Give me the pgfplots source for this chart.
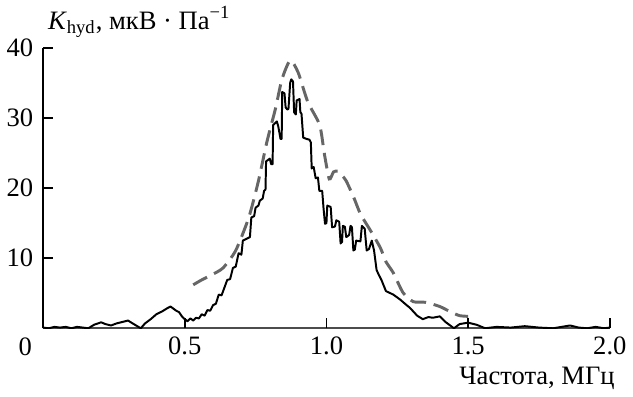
\documentclass[border=0pt]{standalone}
\usepackage{fontspec}
\setmainfont{Liberation Serif}
\usepackage{pgfplots}
\pgfplotsset{compat=1.18}
\begin{document}
\begin{tikzpicture}[font=\fontsize{13.5}{16}\selectfont]
\begin{axis}[
  scale only axis, width=288pt, height=142.5pt,
  xmin=0, xmax=2, ymin=0, ymax=40,
  axis x line*=bottom, axis y line*=left,
  axis line style={line width=0.8pt},
  xtick={0.5,1,1.5,2}, ytick={10,20,30,40},
  tick align=inside, major tick length=5pt,
  major tick style={line width=0.8pt},
  /pgf/number format/assume math mode=true,
  xticklabel style={/pgf/number format/.cd, fixed, fixed zerofill, precision=1, /tikz/.cd, yshift=-1pt},
  yticklabel style={xshift=-1.5pt},
  xlabel style={at={(rel axis cs:1,0)}, anchor=base east, yshift=-28.5pt, xshift=6pt},
  ylabel style={rotate=-90, at={(rel axis cs:0,1)}, anchor=base west, yshift=9.5pt, xshift=-1pt},
  xlabel={Частота, МГц},
  ylabel={\textit{K}\textsubscript{hyd}, мкВ~·~Па\textsuperscript{\char"2212 1}},
  clip mode=individual,
]
\draw[black!70, line width=1.1pt] (rel axis cs:0,0) -- (rel axis cs:1,0);
\draw[black, line width=0.8pt] (rel axis cs:0,0) -- (rel axis cs:0,1);
\draw[black, line width=0.8pt] (axis cs:0,10) -- ++(5pt,0);
\draw[black, line width=0.8pt] (axis cs:0,20) -- ++(5pt,0);
\draw[black, line width=0.8pt] (axis cs:0,30) -- ++(5pt,0);
\draw[black, line width=0.8pt] (axis cs:0,40) -- ++(5pt,0);
\draw[black, line width=0.8pt] (axis cs:0.5,0) -- ++(0,5pt);
\draw[black, line width=0.8pt] (axis cs:1,0) -- ++(0,5pt);
\draw[black, line width=0.8pt] (axis cs:1.5,0) -- ++(0,5pt);
\draw[black, line width=0.8pt] (axis cs:2,0) -- ++(0,5pt);
\addplot[black, line width=1pt, line join=round] coordinates {
(0.00,0.1) (0.02,0.0) (0.04,0.2) (0.06,0.1) (0.08,0.2) (0.10,0.0) (0.12,0.2) (0.14,0.1) (0.16,0.0)
(0.18,0.5) (0.205,0.85) (0.22,0.6) (0.24,0.4) (0.26,0.7) (0.28,0.9) (0.30,1.1) (0.32,0.6) (0.345,0.0)
(0.36,0.7) (0.38,1.3) (0.40,2.0) (0.42,2.4) (0.44,2.9) (0.45,3.1) (0.46,2.8) (0.47,2.5) (0.48,2.3)
(0.49,1.7) (0.50,1.3) (0.51,1.0) (0.52,1.4) (0.53,1.1) (0.54,1.5) (0.55,1.4) (0.56,2.0) (0.57,1.8)
(0.58,2.6) (0.59,2.5) (0.60,3.3) (0.61,3.5) (0.62,4.8) (0.63,4.7) (0.64,5.8) (0.65,6.9) (0.66,7.0)
(0.67,8.6) (0.68,8.8) (0.69,10.7) (0.70,10.5) (0.705,12.5) (0.72,12.8) (0.73,13.0) (0.735,15.8)
(0.745,16.0) (0.75,17.2) (0.76,17.5) (0.765,18.2) (0.775,18.5) (0.78,19.6) (0.785,19.8) (0.787,23.8)
(0.80,24.2) (0.805,23.4) (0.81,23.4) (0.812,29.0) (0.825,29.5) (0.83,28.8) (0.838,27.0) (0.842,27.0)
(0.844,33.7) (0.852,33.5) (0.856,31.5) (0.862,31.2) (0.866,31.3) (0.868,32.5) (0.872,35.0) (0.876,35.5)
(0.882,35.2) (0.886,30.8) (0.892,30.5) (0.895,32.5) (0.905,32.7) (0.908,30.8) (0.912,30.6) (0.918,27.2)
(0.93,27.0) (0.94,26.9) (0.945,26.5) (0.948,22.8) (0.955,23.0) (0.962,21.4) (0.97,21.5) (0.975,19.6)
(0.985,19.6) (0.99,17.0) (0.995,14.9) (1.0,15.0) (1.003,17.5) (1.015,17.3) (1.02,14.4) (1.03,14.5)
(1.035,15.4) (1.045,15.2) (1.05,12.1) (1.055,12.3) (1.058,14.6) (1.065,14.5) (1.07,13.0) (1.08,13.3)
(1.085,14.6) (1.09,14.4) (1.095,11.1) (1.10,11.2) (1.105,12.5) (1.12,12.4) (1.125,14.6) (1.135,14.2)
(1.142,11.1) (1.15,11.3) (1.16,12.5) (1.168,11.1) (1.177,8.3) (1.185,7.6) (1.194,6.9) (1.21,5.3)
(1.236,4.8) (1.26,4.1) (1.28,3.4) (1.295,2.9) (1.32,1.8) (1.34,1.3) (1.36,1.6) (1.375,1.5) (1.40,1.7)
(1.42,0.9) (1.44,0.3) (1.45,0.0) (1.47,0.6) (1.50,0.8) (1.53,0.5) (1.56,0.0) (1.60,0.2) (1.65,0.1)
(1.70,0.3) (1.75,0.1) (1.80,0.0) (1.83,0.2) (1.86,0.4) (1.89,0.1) (1.92,0.0) (1.95,0.2) (1.98,0.0) (2.0,0.1)
};
\addplot[black!60, line width=1.5pt, dash pattern=on 8pt off 4pt, smooth, tension=0.4] coordinates {
(0.53,6.2) (0.56,6.9) (0.594,7.6) (0.635,8.6) (0.68,11.1) (0.726,15.8) (0.76,21.0) (0.79,26.6)
(0.82,31.3) (0.843,35.5) (0.872,38.2) (0.9,36.5) (0.934,32.3) (0.976,29.0) (0.993,24.8) (1.01,21.3)
(1.025,22.3) (1.04,22.4) (1.055,21.8) (1.07,21.0) (1.097,18.6) (1.12,16.3) (1.156,13.9) (1.19,11.5)
(1.21,9.5) (1.236,7.9) (1.27,5.1) (1.306,3.8) (1.35,3.7) (1.40,3.1) (1.44,2.3) (1.47,1.8) (1.50,1.7)
};
\node[anchor=base, yshift=-14pt, xshift=-9pt] at (rel axis cs:0,0) {0};
\end{axis}
\end{tikzpicture}
\end{document}
